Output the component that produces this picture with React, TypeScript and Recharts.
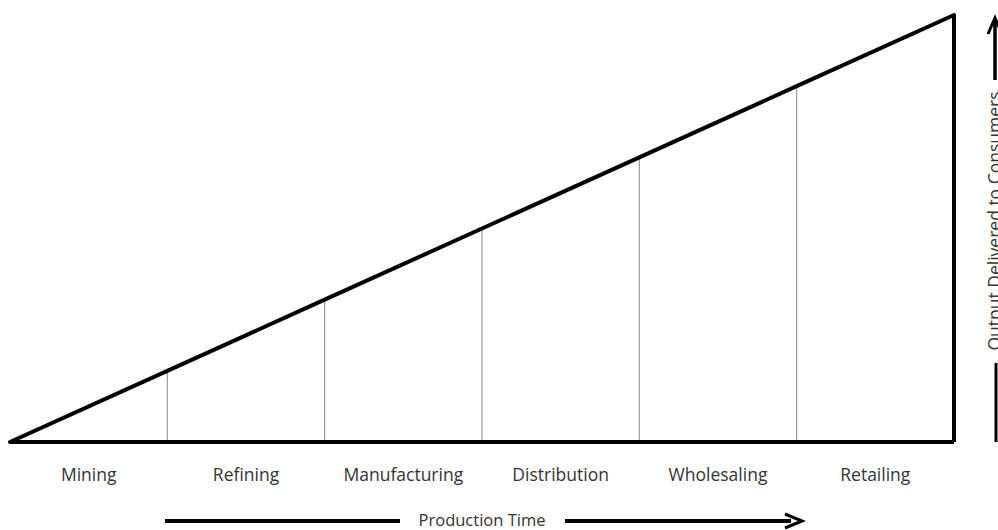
import React from 'react';
import { ComposedChart, Line, XAxis, YAxis, ReferenceLine } from 'recharts';

const stages = ['Mining', 'Refining', 'Manufacturing', 'Distribution', 'Wholesaling', 'Retailing'];
const stageBoundaries = [0, 1, 2, 3, 4, 5, 6];
const outputDelivered = [0, 1, 2, 3, 4, 5, 6];
const stageCenters = [0.5, 1.5, 2.5, 3.5, 4.5, 5.5];
const xTitle = 'Production Time';
const yTitle = 'Output Delivered to Consumers';

const data = stageBoundaries.map((b, i) => ({ x: b, y: outputDelivered[i] }));
const FONT = '"Open Sans", "Noto Sans", sans-serif';
const TEXT = '#333333';

const XTitleArrow = (props: any) => {
  const vb = props.viewBox || {};
  const y = vb.y + 79;
  const cx = vb.x + vb.width * 0.5;
  return (
    <g>
      <line x1={vb.x + 155} x2={vb.x + 390} y1={y} y2={y} stroke="#000" strokeWidth={4} />
      <text x={cx} y={y + 5} textAnchor="middle" fontFamily={FONT} fontSize={16.5} fill={TEXT}>{xTitle}</text>
      <line x1={vb.x + 555} x2={vb.x + 781} y1={y} y2={y} stroke="#000" strokeWidth={4} />
      <path d={`M${vb.x + 775},${y - 7} L${vb.x + 792},${y} L${vb.x + 775},${y + 7}`} fill="none" stroke="#000" strokeWidth={3} strokeLinejoin="miter" />
    </g>
  );
};

const YTitleArrow = (props: any) => {
  const vb = props.viewBox || {};
  const x = vb.x + 41;
  const cy = vb.y + 206;
  return (
    <g>
      <line x1={x} x2={x} y1={vb.y + 6} y2={vb.y + 65} stroke="#000" strokeWidth={3.5} />
      <path d={`M${x - 7},${vb.y + 19} L${x},${vb.y + 3} L${x + 7},${vb.y + 19}`} fill="none" stroke="#000" strokeWidth={3} />
      <text x={x + 6} y={cy} transform={`rotate(-90 ${x + 6} ${cy})`} textAnchor="middle" fontFamily={FONT} fontSize={17.5} fill={TEXT}>{yTitle}</text>
      <line x1={x + 1} x2={x + 1} y1={vb.y + 348} y2={vb.y + vb.height} stroke="#000" strokeWidth={3} />
    </g>
  );
};

export default function App() {
  return (
    <div style={{ position: 'absolute', left: 0, top: 0, width: 998, height: 530, background: '#fff' }}>
      <ComposedChart width={998} height={530} data={data} margin={{ top: 15, right: 0, bottom: 0, left: 10 }}>
        <XAxis
          dataKey="x"
          type="number"
          domain={[0, 6]}
          ticks={stageCenters}
          tickFormatter={(v: number) => stages[Math.floor(v)]}
          axisLine={false}
          tickLine={false}
          tickMargin={21}
          height={88}
          interval={0}
          tick={{ fontFamily: FONT, fontSize: 17.5, fill: TEXT }}
          label={{ content: XTitleArrow }}
        />
        <YAxis
          orientation="right"
          type="number"
          domain={[0, 6]}
          width={44}
          tick={false}
          axisLine={false}
          tickLine={false}
          label={{ content: YTitleArrow }}
        />
        {stageBoundaries.slice(1, -1).map((b, i) => (
          <ReferenceLine
            key={b}
            segment={[{ x: b, y: 0 }, { x: b, y: outputDelivered[i + 1] }]}
            stroke="#9a9a9a"
            strokeWidth={1.2}
          />
        ))}
        <ReferenceLine y={0} stroke="#000" strokeWidth={4} />
        <ReferenceLine x={6} stroke="#000" strokeWidth={4} />
        <Line
          dataKey="y"
          type="linear"
          stroke="#000"
          strokeWidth={4}
          dot={false}
          isAnimationActive={false}
          strokeLinecap="round"
        />
      </ComposedChart>
    </div>
  );
}
